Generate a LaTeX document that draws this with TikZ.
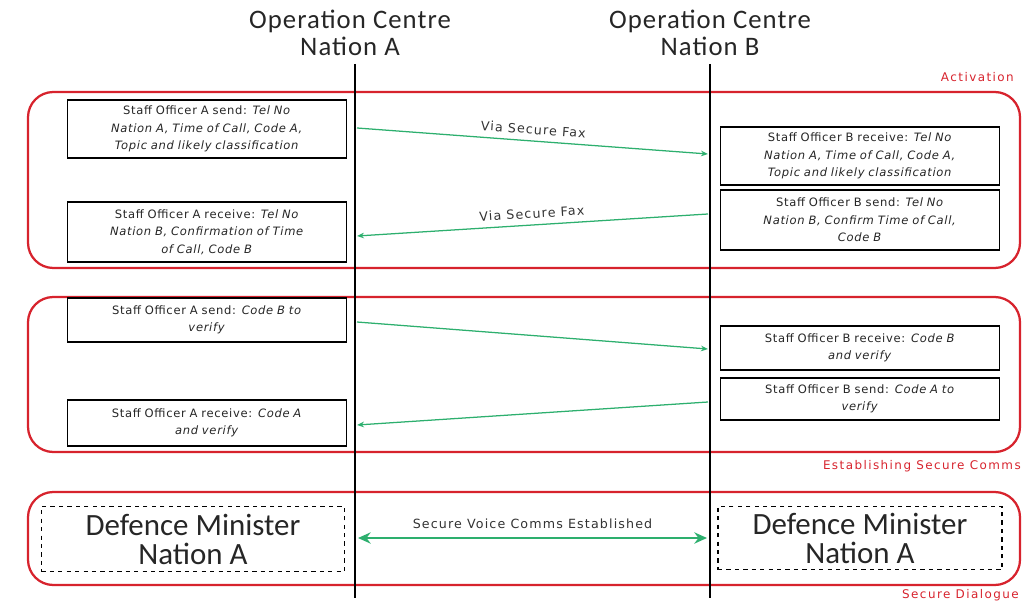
\documentclass[tikz,border=0pt]{standalone}
\usepackage{fontspec}
\setmainfont{Carlito}
\newfontfamily\titlefont{Carlito}[LetterSpace=4]
\newfontfamily\smallsans{DejaVu Sans}[LetterSpace=6]
\newfontfamily\labelsans{DejaVu Sans}[LetterSpace=9]
\newfontfamily\phasesans{DejaVu Sans}[LetterSpace=12]
\usetikzlibrary{arrows.meta}

\definecolor{phasered}{RGB}{215,35,45}
\definecolor{faxgreen}{RGB}{45,175,110}

\tikzset{
  phase/.style={draw=phasered, line width=1.6pt, rounded corners=18pt},
  phaselabel/.style={text=phasered, font=\phasesans\fontsize{8.5}{10}\selectfont, inner sep=0pt},
  lifeline/.style={line width=1.8pt},
  header/.style={align=center, text=black!85, font=\titlefont\fontsize{19}{19.5}\selectfont},
  msgbox/.style={draw, line width=0.9pt, fill=white, minimum width=6.98cm,
    text width=6.9cm, align=center, inner sep=0.5pt, text=black!85,
    font=\smallsans\fontsize{8.2}{12.4}\selectfont},
  ministerbox/.style={draw, dashed, line width=0.9pt, align=center, text=black!85,
    font=\fontsize{22}{20.6}\selectfont},
  msg/.style={draw=faxgreen, line width=0.9pt, -{Stealth[length=5pt,width=4pt]}},
  msglabel/.style={font=\labelsans\fontsize{9}{10}\selectfont, text=black!80}
}

\begin{document}
\begin{tikzpicture}[x=0.025cm, y=-0.025cm]
  \useasboundingbox (0,0) rectangle (1023,603);

  % headers of the two operation centres
  \node (centreA) [header] at (350,33) {Operation Centre\\Nation A};
  \node (centreB) [header] at (710,33) {Operation Centre\\Nation B};

  % the three phases
  \draw [phase] (28,92) rectangle (1020,268);
  \draw [phase] (28,297) rectangle (1020,452);
  \draw [phase] (28,492) rectangle (1020,585);
  \node (actlab) [phaselabel, anchor=east] at (1014,77) {Activation};
  \node (estlab) [phaselabel, anchor=east] at (1021,466) {Establishing Secure Comms};
  \node (dialab) [phaselabel, anchor=east] at (1019,595) {Secure Dialogue};

  % lifelines
  \coordinate (topA) at (355,64);
  \coordinate (botA) at (355,598);
  \coordinate (topB) at (710,64);
  \coordinate (botB) at (710,598);
  \draw [lifeline] (topA) -- (botA);
  \draw [lifeline] (topB) -- (botB);

  % activation
  \node (sendA) [msgbox, minimum height=1.45cm] at (207,129)
    {Staff Officer\ A send: \textit{Tel No}\\\textit{Nation A, Time of Call, Code A,}\\\textit{Topic and likely classification}};
  \node (recvB) [msgbox, minimum height=1.45cm] at (860,156)
    {Staff Officer\ B receive: \textit{Tel No}\\\textit{Nation A, Time of Call, Code A,}\\\textit{Topic and likely classification}};
  \node (sendB) [msgbox, minimum height=1.5cm] at (860,220)
    {Staff Officer\ B send: \textit{Tel No}\\\textit{Nation B, Confirm Time of Call,}\\\textit{Code B}};
  \node (recvA) [msgbox, minimum height=1.5cm] at (207,232)
    {Staff Officer\ A receive: \textit{Tel No}\\\textit{Nation B, Confirmation of Time}\\\textit{of Call, Code B}};

  \coordinate (faxAout) at (357,128);
  \coordinate (faxBin) at (708,154);
  \coordinate (faxBout) at (708,214);
  \coordinate (faxAin) at (357,236);
  \draw [msg] (faxAout) -- node [msglabel, sloped, above=1pt] {Via Secure Fax} (faxBin);
  \draw [msg] (faxBout) -- node [msglabel, sloped, above=1pt] {Via Secure Fax} (faxAin);

  % establishing secure comms
  \node (verA) [msgbox, minimum height=1.1cm] at (207,320)
    {Staff Officer\ A send: \textit{Code B to}\\\textit{verify}};
  \node (chkB) [msgbox, minimum height=1.1cm] at (860,348)
    {Staff Officer\ B receive: \textit{Code B}\\\textit{and verify}};
  \node (verB) [msgbox, minimum height=1.05cm] at (860,399)
    {Staff Officer\ B send: \textit{Code A to}\\\textit{verify}};
  \node (chkA) [msgbox, minimum height=1.15cm] at (207,423)
    {Staff Officer\ A receive: \textit{Code A}\\\textit{and verify}};

  \coordinate (codeAout) at (357,322);
  \coordinate (codeBin) at (708,349);
  \coordinate (codeBout) at (708,402);
  \coordinate (codeAin) at (357,425);
  \draw [msg] (codeAout) -- (codeBin);
  \draw [msg] (codeBout) -- (codeAin);

  % secure dialogue
  \node (ministerA) [ministerbox, minimum width=7.58cm, minimum height=1.62cm] at (193,539)
    {Defence Minister\\Nation A};
  \node (ministerB) [ministerbox, minimum width=7.1cm, minimum height=1.58cm] at (860,538)
    {Defence Minister\\Nation A};
  \coordinate (voiceA) at (358,538);
  \coordinate (voiceB) at (707,538);
  \draw [draw=faxgreen, line width=2pt, {Stealth[length=9pt,width=8pt]}-{Stealth[length=9pt,width=8pt]}]
    (voiceA) -- node [msglabel, above=2pt] {Secure Voice Comms Established} (voiceB);
\end{tikzpicture}
\end{document}
